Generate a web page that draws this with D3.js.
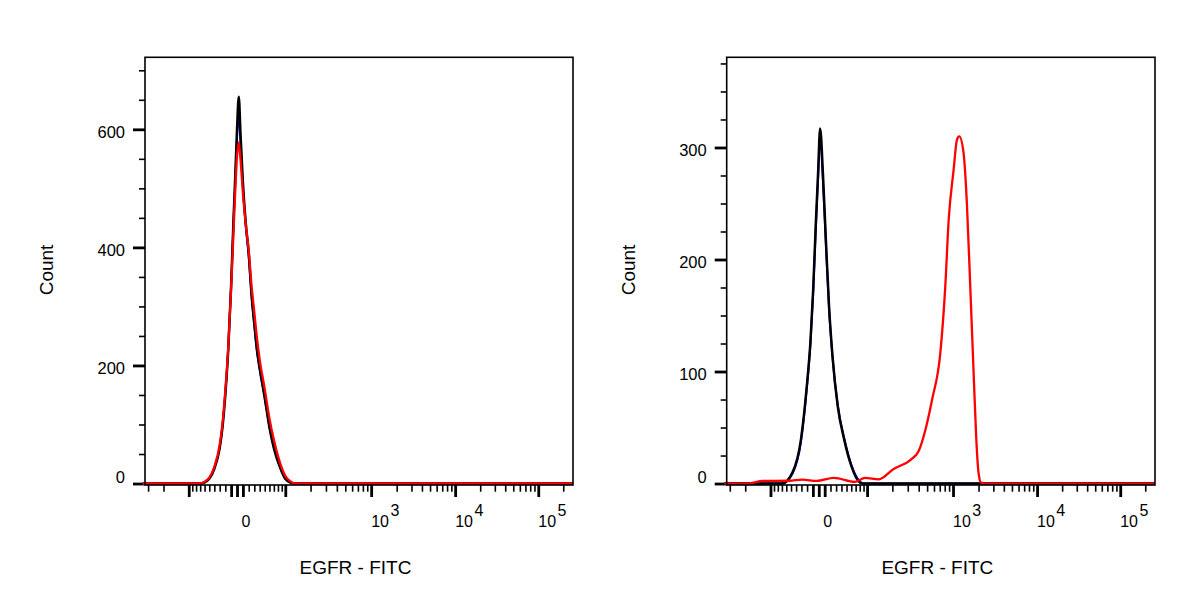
<!DOCTYPE html>
<html>
<head>
<meta charset="utf-8">
<script src="https://cdn.jsdelivr.net/npm/d3@7"></script>
<style>
    html, body { margin: 0; padding: 0; background: #fff; }
    svg { display: block; font-family: "Liberation Sans", Arial, sans-serif; }
    .frame { fill: none; stroke: #000; stroke-width: 1.6; }
    .major line { stroke: #000; stroke-width: 2.8; }
    .minor line { stroke: #000; stroke-width: 1.6; }
    .axis path { display: none; }
    .ylabels text { font-size: 16.5px; fill: #000; }
    .title { font-size: 19px; }
</style>
</head>
<body>
<div id="chart"></div>
<script>
"use strict"

//----------------------------DATA-------------------------------//
// fluorescence values (EGFR - FITC) and counts
const leftFluor = [-345, -100, -70, -60, -50, -40, -30, -25, -20, -15, -10, -6, -3, 0, 3, 6, 10, 15, 20, 25, 30, 35, 40, 50, 60, 70, 85, 100, 115, 130, 200, 1000, 10000, 262144];
const leftBlue  = [0, 0, 0, 2, 9, 27, 62, 98, 152, 228, 335, 440, 512, 585, 625, 575, 500, 435, 385, 318, 268, 224, 194, 146, 96, 62, 30, 9, 2, 0, 0, 0, 0, 0];
const leftBlack = [0, 0, 0, 2, 8, 25, 60, 95, 150, 225, 335, 445, 520, 600, 655, 590, 510, 440, 390, 320, 270, 225, 195, 145, 95, 60, 28, 8, 2, 0, 0, 0, 0, 0];
const leftRed   = [0, 0, 0, 3, 10, 28, 66, 102, 158, 230, 330, 425, 495, 555, 578, 548, 492, 438, 395, 335, 290, 245, 210, 160, 110, 74, 36, 13, 4, 0, 0, 0, 0, 0];

const rightFluorCtrl = [-345, -70, -47, -31, -21, -14, -9.5, -5, -1.2, 2.3, 7, 12, 17.5, 23.5, 33, 45.5, 60, 80, 89, 262144];
const rightBlue  = [0, 0, 9, 37, 82, 126, 170, 228, 272, 309, 270, 214, 156, 113, 70, 40, 17, 2, 0, 0];
const rightBlack = [0, 0, 10, 39, 84, 128, 173, 232, 277, 317, 277, 218, 158, 114, 69, 39, 16, 1, 0, 0];

const rightFluorEgfr = [-345, -195, -123, -54, -28, -3.5, 26, 68, 94, 139, 207, 321, 400, 478, 571, 712, 812, 889, 1016, 1113, 1185, 1331, 1456, 1595, 1742, 1874, 1996, 2130, 2284, 262144];
const rightRed = [0, 0, 2.3, 2.5, 3.5, 2.3, 5, 1.5, 5, 3.8, 13, 21, 29, 48, 75, 117, 176, 235, 280, 307, 310, 295, 250, 176, 102, 42, 10, 1, 0, 0];

// axis ticks
const xMajorTicks = [-100, -10, 0, 10, 100, 1000, 10000, 100000];
const xMinorTicks = [-300, -200, -90, -80, -70, -60, -50, -40, -30, -20, 20, 30, 40, 50, 60, 70, 80, 90,
    200, 300, 400, 500, 600, 700, 800, 900, 2000, 3000, 4000, 5000, 6000, 7000, 8000, 9000,
    20000, 30000, 40000, 50000, 60000, 70000, 80000, 90000, 200000];
const xLabels = [{ v: 0, base: "0", exp: "" }, { v: 1000, base: "10", exp: "3" }, { v: 10000, base: "10", exp: "4" }, { v: 100000, base: "10", exp: "5" }];

const leftYMajor = [0, 200, 400, 600];
const leftYMinor = [50, 100, 150, 250, 300, 350, 450, 500, 550, 650, 700];
const rightYMajor = [0, 100, 200, 300];
const rightYMinor = [25, 50, 75, 125, 150, 175, 225, 250, 275, 325, 350, 375];

const xTitle = "EGFR - FITC";
const yTitle = "Count";

//--------------------------LOGICLE------------------------------//
// biexponential display transform (Parks/Moore logicle)
const makeLogicle = (T, W, M, A) => {
    const w = W / (M + A);
    const x2 = A / (M + A);
    const x1 = x2 + w;
    const x0 = x2 + 2 * w;
    const b = (M + A) * Math.LN10;
    let lo = 1e-9, hi = b;
    for (let i = 0; i < 100; i++) {
        const mid = (lo + hi) / 2;
        const g = 2 * (Math.log(mid) - Math.log(b)) + w * (b + mid);
        if (g > 0) hi = mid; else lo = mid;
    }
    const d = (lo + hi) / 2;
    const ca = Math.exp(x0 * (b + d));
    const mfa = Math.exp(b * x1) - ca / Math.exp(d * x1);
    const a = T / ((Math.exp(b) - mfa) - ca / Math.exp(d));
    const c = ca * a;
    const f = -mfa * a;

    const inverse = (s) => {
        const neg = s < x1;
        if (neg) s = 2 * x1 - s;
        const v = a * Math.exp(b * s) + f - c * Math.exp(-d * s);
        return neg ? -v : v;
    };
    const forward = (v) => {
        if (v < 0) return 2 * x1 - forward(-v);
        let l = x1, h = 1.5;
        for (let i = 0; i < 60; i++) {
            const m = (l + h) / 2;
            if (inverse(m) > v) h = m; else l = m;
        }
        return (l + h) / 2;
    };
    return { forward, inverse };
};
const logicle = makeLogicle(262144, 0.25, 4.2983, 0.8587);

// scale object usable by d3 axes
const makeXScale = (range) => {
    const px = d3.scaleLinear().domain([0, 1]).range(range);
    const scale = (v) => px(logicle.forward(v));
    scale.range = () => px.range();
    scale.domain = () => [logicle.inverse(0), logicle.inverse(1)];
    scale.copy = () => makeXScale(range);
    return scale;
};

//--------------------------LAYOUT-------------------------------//
const width = 1200, height = 600;
const plotTop = 57.3, plotBottom = 485;

const svg = d3.select("#chart").append("svg")
    .attr("width", width)
    .attr("height", height);

const panel = (left, right, yMax, yMin, yMajor, yMinor, series) => {
    const xScale = makeXScale([left, right]);
    const yScale = d3.scaleLinear().domain([yMin, yMax]).range([plotBottom, plotTop]);
    const inX = (v) => v >= xScale.domain()[0] && v <= xScale.domain()[1];

    const g = svg.append("g");

    // minor / major ticks
    g.append("g").attr("class", "axis minor")
        .attr("transform", `translate(0,${plotBottom})`)
        .call(d3.axisBottom(xScale).tickValues(xMinorTicks.filter(inX)).tickSize(6.7).tickFormat(""));
    g.append("g").attr("class", "axis major")
        .attr("transform", `translate(0,${plotBottom})`)
        .call(d3.axisBottom(xScale).tickValues(xMajorTicks.filter(inX)).tickSize(12).tickFormat(""));

    g.append("g").attr("class", "axis minor")
        .attr("transform", `translate(${left},0)`)
        .call(d3.axisLeft(yScale).tickValues(yMinor).tickSize(6).tickFormat(""));
    const yAx = g.append("g").attr("class", "axis major ylabels")
        .attr("transform", `translate(${left},0)`)
        .call(d3.axisLeft(yScale).tickValues(yMajor).tickSize(12).tickPadding(8).tickFormat(d3.format("d")));
    yAx.attr("font-family", null).attr("font-size", null);
    yAx.selectAll("text")
        .attr("dy", (d) => d === 0 ? "-0.05em" : "0.47em");

    // x labels with superscripts
    xLabels.forEach((l) => {
        const t = g.append("text")
            .attr("x", xScale(l.v) + (l.exp ? 0 : 4.5))
            .attr("y", 527)
            .style("font-size", "16px")
            .text(l.base);
        if (l.exp) {
            t.append("tspan")
                .attr("dx", 1.5)
                .attr("dy", -10.7)
                .style("font-size", "16px")
                .text(l.exp);
        }
    });

    // histograms
    const line = d3.line()
        .x((d) => xScale(d[0]))
        .y((d) => yScale(d[1]))
        .curve(d3.curveMonotoneX);

    series.forEach((s) => {
        g.append("path")
            .datum(d3.zip(s.x, s.y))
            .attr("fill", "none")
            .attr("stroke", s.color)
            .attr("stroke-width", s.w)
            .attr("stroke-linejoin", "round")
            .attr("d", line);
    });

    // frame
    g.append("rect").attr("class", "frame")
        .attr("x", left).attr("y", plotTop)
        .attr("width", right - left).attr("height", plotBottom - plotTop);

    // titles
    g.append("text").attr("class", "title")
        .attr("x", (left + right) / 2 - 3.5)
        .attr("y", 574)
        .attr("text-anchor", "middle")
        .text(xTitle);
    g.append("text").attr("class", "title")
        .attr("transform", `translate(${left - 92},270) rotate(-90)`)
        .attr("text-anchor", "middle")
        .text(yTitle);
};

panel(145, 573, 722, -2.5, leftYMajor, leftYMinor, [
    { x: leftFluor, y: leftBlue, color: "#0000ff", w: 2 },
    { x: leftFluor, y: leftBlack, color: "#000000", w: 2.5 },
    { x: leftFluor, y: leftRed, color: "#ff0000", w: 2.3 }
]);

panel(726.7, 1155, 380.5, -1.3, rightYMajor, rightYMinor, [
    { x: rightFluorCtrl, y: rightBlue, color: "#0000ff", w: 2 },
    { x: rightFluorCtrl, y: rightBlack, color: "#000000", w: 2.5 },
    { x: rightFluorEgfr, y: rightRed, color: "#ff0000", w: 2.3 }
]);
</script>
</body>
</html>
